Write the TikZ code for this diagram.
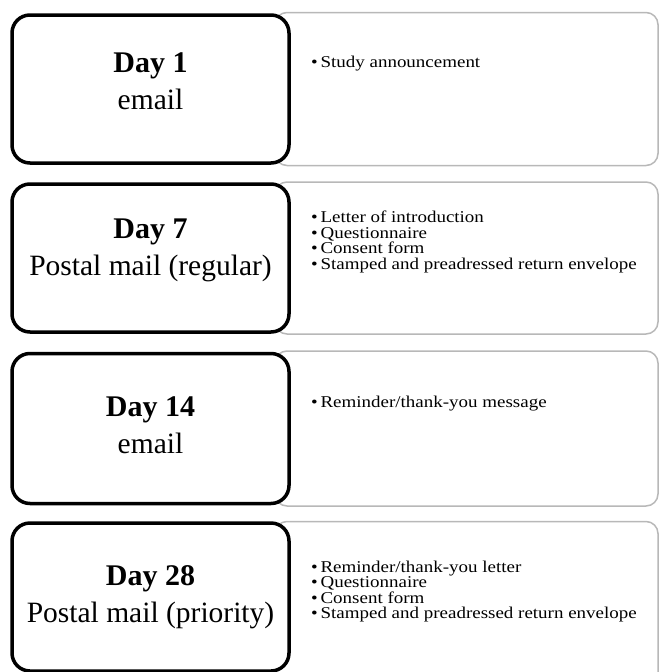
\documentclass[tikz,border=0pt]{standalone}
\usepackage{fontspec}
\setmainfont{Liberation Serif}
\newfontfamily\listfont[FakeStretch=1.15]{Liberation Serif}

\tikzset{
  daybox/.style={draw=black, line width=3.5pt, rounded corners=18pt, fill=white,
    minimum width=277pt, minimum height=148pt, inner sep=0pt},
  daytext/.style={align=center, inner sep=0pt, font=\fontsize{29.5}{37}\selectfont},
  listbox/.style={draw=black!28, line width=1.5pt, rounded corners=12pt, fill=white,
    minimum width=383pt, minimum height=153pt, inner sep=0pt},
  listtext/.style={anchor=north west, align=left, inner sep=0pt,
    font=\listfont\fontsize{16.5}{15.5}\selectfont},
}
\newcommand{\daytitle}[1]{{\bfseries\fontsize{30}{37}\selectfont Day #1}}
\newcommand{\bulletitem}{\textbullet\,}

\begin{document}
\begin{tikzpicture}[x=1pt, y=1pt]
	\useasboundingbox (0,0) rectangle (659,-672);
	% right-hand boxes (behind)
	\node[listbox] (L1) at (466.5,-89) {};
	\node[listbox, minimum height=152pt] (L7) at (466.5,-258) {};
	\node[listbox, minimum height=155pt] (L14) at (466.5,-428.5) {};
	\node[listbox, minimum height=165pt] (L28) at (466.5,-604) {};
	% left-hand boxes
	\node[daybox] (D1) at (150.5,-89) {};
	\node[daybox] (D7) at (150.5,-258) {};
	\node[daybox, minimum height=150pt] (D14) at (150.5,-428.5) {};
	\node[daybox] (D28) at (150.5,-597) {};
	\node[daytext] (D1t) at ([yshift=8pt]D1.center) {\daytitle{1}\\email};
	\node[daytext] (D7t) at ([yshift=8pt]D7.center) {\daytitle{7}\\Postal mail (regular)};
	\node[daytext] (D14t) at ([yshift=3pt]D14.center) {\daytitle{14}\\email};
	\node[daytext] (D28t) at (D28.center) {\daytitle{28}\\Postal mail (priority)};
	% contents
	\node[listtext] (T1) at (311,-55.7) {\bulletitem Study announcement};
	\node[listtext] (T7) at (311,-210.7) {\bulletitem Letter of introduction\\\bulletitem Questionnaire\\\bulletitem Consent form\\\bulletitem Stamped and preadressed return envelope};
	\node[listtext] (T14) at (311,-395.7) {\bulletitem Reminder/thank-you message};
	\node[listtext] (T28) at (311,-560.7) {\bulletitem Reminder/thank-you letter\\\bulletitem Questionnaire\\\bulletitem Consent form\\\bulletitem Stamped and preadressed return envelope};
\end{tikzpicture}
\end{document}
